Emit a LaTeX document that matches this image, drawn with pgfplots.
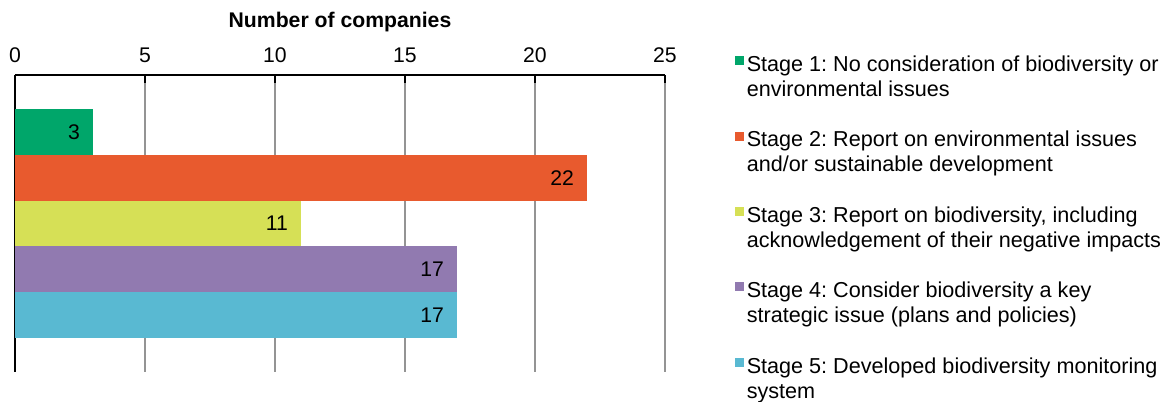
\documentclass[border=0pt]{standalone}
\usepackage{pgfplots}
\pgfplotsset{compat=1.18}
\usepackage{fontspec}
\setmainfont{Liberation Sans}
\frenchspacing
\definecolor{s1}{RGB}{0,166,106}
\definecolor{s2}{RGB}{232,90,46}
\definecolor{s3}{RGB}{214,224,86}
\definecolor{s4}{RGB}{145,122,176}
\definecolor{s5}{RGB}{89,185,210}
\pgfplotsset{
  sq/.style={legend image code/.code={\fill[##1] (0pt,-0.4pt) rectangle (4.5pt,4.1pt);}},
}
\newcommand{\legtxt}[2]{\begin{tabular}{@{}l@{}}\rule{0pt}{15pt}#1\\#2\rule[-10pt]{0pt}{1pt}\end{tabular}}
\begin{document}
\begin{tikzpicture}
\useasboundingbox (-7.5pt,37.5pt) rectangle (574.5pt,-163.5pt);
\begin{axis}[
  at={(0pt,0pt)}, anchor=north west,
  scale only axis, width=325pt, height=148.5pt,
  xbar, bar shift=0pt, bar width=1,
  xmin=0, xmax=25, ymin=-0.25, ymax=6.25, y dir=reverse,
  axis x line*=top, axis y line*=left,
  xtick={0,5,...,25}, ytick=\empty,
  xmajorgrids, grid style={color=black!42, line width=0.8pt},
  tick align=inside, major tick length=4pt,
  x axis line style={line width=1.3pt, black},
  y axis line style={line width=0.9pt, black},
  xtick style={black, line width=0.8pt},
  /pgf/number format/assume math mode=true,
  xticklabel style={font=\fontsize{10.6}{12}\selectfont, anchor=base, yshift=6.5pt},
  xlabel={Number of companies},
  every axis x label/.style={at={(axis description cs:0.5,1)}, anchor=base, yshift=24pt, font=\bfseries\fontsize{10.6}{12}\selectfont},
  nodes near coords,
  every node near coord/.append style={anchor=east, xshift=-3pt, font=\fontsize{10.6}{12}\selectfont, text=black},
  legend cell align=left,
  legend style={at={(axis description cs:1.1077,1.115)}, anchor=north west,
    draw=none, fill=none, inner sep=0pt, column sep=1.2pt, row sep=14.75pt,
    font=\fontsize{10.8}{12.5}\selectfont, nodes={inner sep=0pt}},
]
\addplot[sq, fill=s1, draw=none] coordinates {(3,1)};
\addlegendentry{\legtxt{Stage 1: No consideration of biodiversity or}{environmental issues}}
\addplot[sq, fill=s2, draw=none] coordinates {(22,2)};
\addlegendentry{\legtxt{Stage 2: Report on environmental issues}{and/or sustainable development}}
\addplot[sq, fill=s3, draw=none] coordinates {(11,3)};
\addlegendentry{\legtxt{Stage 3: Report on biodiversity, including}{acknowledgement of their negative impacts}}
\addplot[sq, fill=s4, draw=none] coordinates {(17,4)};
\addlegendentry{\legtxt{Stage 4: Consider biodiversity a key}{strategic issue (plans and policies)}}
\addplot[sq, fill=s5, draw=none] coordinates {(17,5)};
\addlegendentry{\legtxt{Stage 5: Developed biodiversity monitoring}{system}}
\end{axis}
\end{tikzpicture}
\end{document}
